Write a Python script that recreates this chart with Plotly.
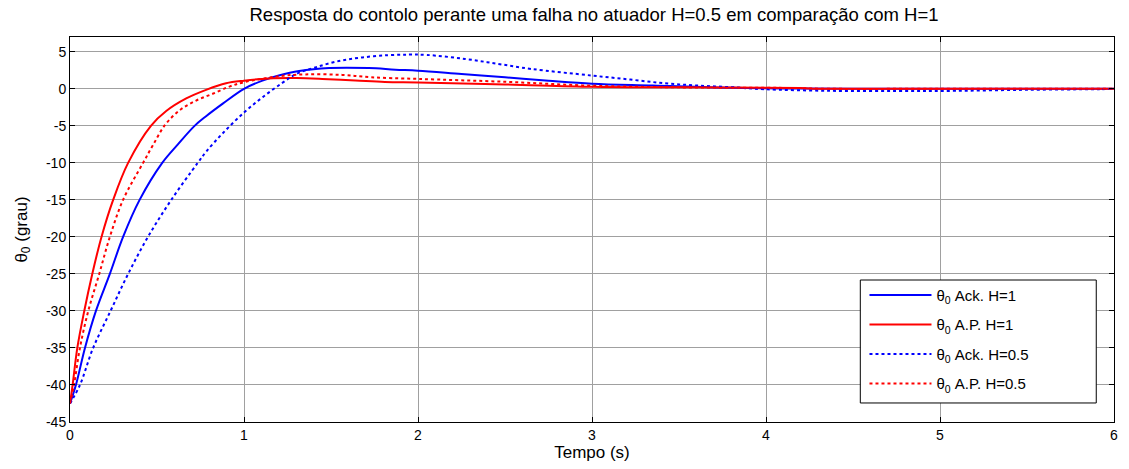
import plotly.graph_objects as go

# Ack. H=1 (blue solid)
t_ack1 = [0, 0.034, 0.086, 0.149, 0.229, 0.305, 0.4, 0.53, 0.62, 0.716, 0.782, 0.878, 1.0, 1.106, 1.2, 1.317, 1.49, 1.717, 1.87, 2.0, 2.25, 2.5, 2.75, 3.0, 3.35, 3.8, 4.2, 4.6, 5.0, 6.0]
y_ack1 = [-42.5, -40, -35, -30, -25, -20, -15, -10, -7.5, -5.0, -3.7, -2.0, 0.0, 1.1, 1.79, 2.4, 2.8, 2.8, 2.59, 2.45, 2.0, 1.56, 1.1, 0.7, 0.45, 0.13, 0.05, 0.02, 0.0, 0.0]

# A.P. H=1 (red solid)
t_ap1 = [0, 0.015, 0.042, 0.082, 0.128, 0.181, 0.248, 0.334, 0.465, 0.553, 0.668, 0.782, 0.897, 1.0, 1.145, 1.3, 1.45, 1.64, 1.81, 2.0, 2.5, 3.0, 3.5, 4.2, 4.3, 5.0, 6.0]
y_ap1 = [-42.5, -40, -35, -30, -25, -20, -15, -10, -5, -3.0, -1.3, -0.14, 0.75, 1.1, 1.4, 1.45, 1.34, 1.12, 0.92, 0.85, 0.6, 0.28, 0.2, 0.1, 0.02, 0.0, 0.0]

# Ack. H=0.5 (blue dotted)
t_ack05 = [0, 0.057, 0.133, 0.233, 0.334, 0.448, 0.582, 0.734, 0.782, 0.878, 1.0, 1.107, 1.22, 1.3, 1.41, 1.545, 1.68, 1.83, 1.95, 2.05, 2.27, 2.46, 2.65, 3.0, 3.22, 3.415, 3.6, 3.8, 3.99, 4.37, 4.75, 5.09, 5.5, 5.9, 6.0]
y_ack05 = [-42.5, -40, -35, -30, -25, -20, -15, -10, -8.5, -6.0, -3.2, -1.13, 0.8, 2.0, 2.9, 3.75, 4.24, 4.55, 4.62, 4.58, 4.04, 3.37, 2.69, 1.79, 1.25, 0.76, 0.45, 0.22, -0.05, -0.27, -0.31, -0.27, -0.13, -0.05, -0.03]

# A.P. H=0.5 (red dotted)
t_ap05 = [0, 0.023, 0.057, 0.105, 0.168, 0.229, 0.305, 0.42, 0.477, 0.544, 0.63, 0.725, 0.82, 0.916, 1.0, 1.2, 1.355, 1.565, 1.73, 2.0, 2.5, 3.0, 3.5, 4.2, 4.3, 5.0, 6.0]
y_ap05 = [-42.5, -40, -35, -30, -25, -20, -15, -10, -7.6, -4.95, -2.9, -1.58, -0.67, 0.3, 0.9, 1.7, 1.95, 1.88, 1.56, 1.34, 0.95, 0.42, 0.2, 0.1, 0.02, 0.0, 0.0]

x_ticks = [0, 1, 2, 3, 4, 5, 6]
y_ticks = [5, 0, -5, -10, -15, -20, -25, -30, -35, -40, -45]
y_ticktext = [str(v) for v in y_ticks]

names = ["θ<sub>0</sub> Ack. H=1", "θ<sub>0</sub> A.P. H=1",
         "θ<sub>0</sub> Ack. H=0.5", "θ<sub>0</sub> A.P. H=0.5"]

fig = go.Figure()
series = [(t_ack1, y_ack1, "#0000ff", "solid"),
          (t_ap1, y_ap1, "#ff0000", "solid"),
          (t_ack05, y_ack05, "#0000ff", "dot"),
          (t_ap05, y_ap05, "#ff0000", "dot")]
for i, ((tx, ty, c, d), n) in enumerate(zip(series, names)):
    fig.add_trace(go.Scatter(x=tx, y=ty, mode="lines", name=n, legendgroup="g%d" % i,
                             line=dict(color=c, width=2, dash=d, shape="spline", smoothing=1.0)))

# legend frame (MATLAB-style box, wider than the text)
fig.add_shape(type="rect", xref="paper", yref="paper",
              x0=0.757, x1=0.983, y0=0.0494, y1=0.3688,
              line=dict(color="black", width=1), fillcolor="white", layer="above")

font_family = "Liberation Sans, Arial, sans-serif"
fig.update_layout(
    width=1129, height=469,
    margin=dict(l=70, r=11, t=37, b=47),
    paper_bgcolor="white", plot_bgcolor="white",
    font=dict(family=font_family, size=14, color="black"),
    title=dict(text="Resposta do contolo perante uma falha no atuador H=0.5 em comparação com H=1",
               x=594 / 1129, xanchor="center",
               y=1 - 15 / 469, yanchor="middle", font=dict(size=18.5)),
    showlegend=True,
    legend=dict(x=0.761, y=0.372, xanchor="left", yanchor="top",
                bgcolor="rgba(0,0,0,0)", borderwidth=0,
                font=dict(size=15), itemwidth=62, tracegroupgap=7),
)
fig.update_xaxes(range=[0, 6], tickvals=x_ticks, ticktext=[str(v) for v in x_ticks],
                 showgrid=True, gridcolor="#a0a0a0", gridwidth=1,
                 showline=True, linecolor="black", linewidth=1, mirror="allticks",
                 ticks="inside", ticklen=5, tickcolor="black", zeroline=False,
                 tickfont=dict(size=14),
                 title=dict(text="Tempo (s)", font=dict(size=17), standoff=2))
fig.update_yaxes(range=[-45, 7], tickvals=y_ticks, ticktext=y_ticktext,
                 showgrid=True, gridcolor="#a0a0a0", gridwidth=1,
                 showline=True, linecolor="black", linewidth=1, mirror="allticks",
                 ticks="inside", ticklen=5, tickcolor="black", zeroline=False,
                 tickfont=dict(size=14),
                 title=dict(text="θ<sub>0</sub> (grau)", font=dict(size=17), standoff=14))

fig.write_html("out.html")
